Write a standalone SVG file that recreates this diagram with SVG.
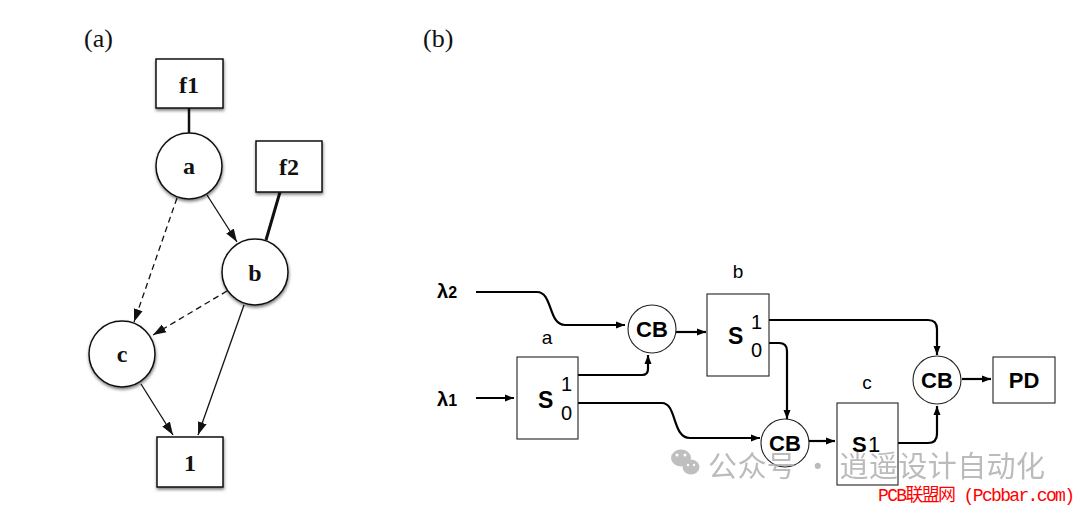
<svg xmlns="http://www.w3.org/2000/svg" width="1080" height="510" viewBox="0 0 1080 510">
<style>
.serif{font-family:"Liberation Serif","DejaVu Serif",serif}
.sans{font-family:"Liberation Sans","DejaVu Sans",sans-serif}
.na{fill:#fff;stroke:#111;stroke-width:1.5}
.la{font-size:24px;font-weight:bold;text-anchor:middle;fill:#111}
.ea{fill:none;stroke:#111;stroke-width:1.3}
.nb{fill:#fff;stroke:#222;stroke-width:1.1}
.eb{fill:none;stroke:#000;stroke-width:2.2}
.cb{font-size:22px;font-weight:bold;text-anchor:middle;fill:#000}
.sm{font-size:20px;fill:#000}
</style>
<defs>
<filter id="sh" x="-30%" y="-30%" width="160%" height="170%">
<feDropShadow dx="0.5" dy="2" stdDeviation="1.5" flood-color="#000" flood-opacity="0.5"/>
</filter>
<marker id="ma" markerUnits="userSpaceOnUse" markerWidth="14" markerHeight="10" refX="13" refY="5" orient="auto">
<path d="M0,0.5 L13,5 L0,9.5 Z" fill="#111"/>
</marker>
<marker id="mb" markerUnits="userSpaceOnUse" markerWidth="10" markerHeight="8" refX="9" refY="4" orient="auto">
<path d="M0,0.5 L9,4 L0,7.5 Z" fill="#000"/>
</marker>
</defs>
<rect width="1080" height="510" fill="#fff"/>

<text class="serif" x="84" y="47" font-size="26" fill="#111">(a)</text>
<text class="serif" x="423" y="47" font-size="26" fill="#111">(b)</text>

<g id="connectors-a">
<line x1="189" y1="108" x2="189" y2="133" stroke="#111" stroke-width="2.5"/>
<line x1="280" y1="192" x2="266" y2="240" stroke="#111" stroke-width="3"/>
<line class="ea" x1="207" y1="195" x2="237" y2="242" marker-end="url(#ma)"/>
<line class="ea" x1="177" y1="198" x2="134" y2="322" stroke-dasharray="6,4" marker-end="url(#ma)"/>
<line class="ea" x1="227" y1="291" x2="153" y2="335" stroke-dasharray="6,4" marker-end="url(#ma)"/>
<line class="ea" x1="141" y1="384" x2="173" y2="435" marker-end="url(#ma)"/>
<line class="ea" x1="244" y1="305" x2="198" y2="435" marker-end="url(#ma)"/>
</g>

<g id="f1" filter="url(#sh)"><rect class="na" x="156" y="59" width="67" height="49"/></g>
<text class="serif la" x="189" y="93">f1</text>
<g id="f2" filter="url(#sh)"><rect class="na" x="256" y="141" width="66" height="51"/></g>
<text class="serif la" x="289" y="175">f2</text>
<g id="a" filter="url(#sh)"><circle class="na" cx="189" cy="166" r="33"/></g>
<text class="serif la" x="189" y="174">a</text>
<g id="b" filter="url(#sh)"><circle class="na" cx="255" cy="272" r="33"/></g>
<text class="serif la" x="255" y="281">b</text>
<g id="c" filter="url(#sh)"><circle class="na" cx="122" cy="354" r="33"/></g>
<text class="serif la" x="122" y="362">c</text>
<g id="one" filter="url(#sh)"><rect class="na" x="157" y="437" width="66" height="50"/></g>
<text class="serif la" x="190" y="471">1</text>

<g id="connectors-b">
<path class="eb" d="M476,292 H537 C553,292 548,325 565,325 H625" marker-end="url(#mb)"/>
<line class="eb" x1="476" y1="398" x2="514" y2="398" marker-end="url(#mb)"/>
<path class="eb" d="M578,375 H642 Q648,375 648,369 V355" marker-end="url(#mb)"/>
<path class="eb" d="M578,403 H662 C677,403 672,438 690,438 H760" marker-end="url(#mb)"/>
<line class="eb" x1="676" y1="332" x2="706" y2="332" marker-end="url(#mb)"/>
<path class="eb" d="M769,320 H928 Q937,320 937,329 V355" marker-end="url(#mb)"/>
<path class="eb" d="M769,343 H779 Q787,343 787,351 V419" marker-end="url(#mb)"/>
<line class="eb" x1="809" y1="441" x2="835" y2="441" marker-end="url(#mb)"/>
<path class="eb" d="M898,443 H928 Q937,443 937,434 V406" marker-end="url(#mb)"/>
<line class="eb" x1="962" y1="379" x2="991" y2="379" marker-end="url(#mb)"/>
</g>

<text class="sans" x="437" y="298" font-size="20" font-weight="bold">λ<tspan font-size="16">2</tspan></text>
<text class="sans" x="437" y="406" font-size="20" font-weight="bold">λ<tspan font-size="16">1</tspan></text>

<g id="sa">
<rect class="nb" x="517" y="357" width="61" height="82"/>
<text class="sans" x="547" y="344" font-size="19" text-anchor="middle">a</text>
<text class="sans" x="538" y="408" font-size="23" font-weight="bold">S</text>
<text class="sans sm" x="561" y="391">1</text>
<text class="sans sm" x="561" y="420">0</text>
</g>
<g id="cb1">
<circle class="nb" cx="652" cy="329" r="24"/>
<text class="sans cb" x="652" y="337">CB</text>
</g>
<g id="sb">
<rect class="nb" x="707" y="294" width="62" height="82"/>
<text class="sans" x="738" y="278" font-size="19" text-anchor="middle">b</text>
<text class="sans" x="728" y="344" font-size="23" font-weight="bold">S</text>
<text class="sans sm" x="751" y="329">1</text>
<text class="sans sm" x="751" y="357">0</text>
</g>
<g id="cb2">
<circle class="nb" cx="785" cy="443" r="24"/>
<text class="sans cb" x="785" y="451">CB</text>
</g>
<g id="sc">
<rect class="nb" x="837" y="403" width="61" height="82"/>
<text class="sans" x="867" y="389" font-size="19" text-anchor="middle">c</text>
<text class="sans" x="852" y="452" font-size="22" font-weight="bold">S</text>
<text class="sans" x="868" y="452" font-size="22">1</text>
</g>
<g id="cb3">
<circle class="nb" cx="937" cy="380" r="24"/>
<text class="sans cb" x="937" y="388">CB</text>
</g>
<g id="pd">
<rect class="nb" x="993" y="357" width="62" height="46"/>
<text class="sans cb" x="1024" y="388">PD</text>
</g>

<g id="watermark" opacity="0.85">
<g fill="#b5b5b5">
<ellipse cx="681" cy="458" rx="10" ry="8.5"/>
<ellipse cx="691" cy="467" rx="8.5" ry="7.5"/>
</g>
<g fill="#fff">
<circle cx="677" cy="455" r="1.5"/><circle cx="685" cy="455" r="1.5"/>
<circle cx="688" cy="465" r="1.2"/><circle cx="694" cy="465" r="1.2"/>
</g>
<text x="708" y="477" font-size="29" fill="#b0b0b0" font-family="Noto Sans CJK SC, sans-serif" textLength="337">公众号 · 逍遥设计自动化</text>
</g>
<text x="878" y="501" font-size="18" fill="#ff0000" font-family="Liberation Mono, Noto Sans CJK SC, monospace" textLength="197">PCB联盟网 (Pcbbar.com)</text>
</svg>
